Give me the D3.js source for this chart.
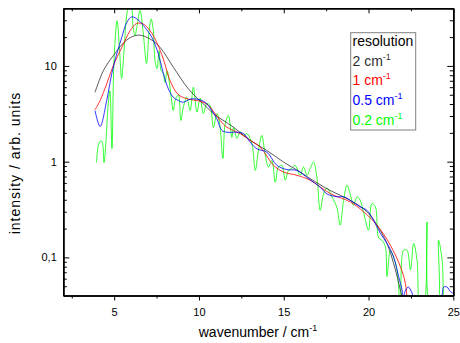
<!DOCTYPE html>
<html>
<head>
<meta charset="utf-8">
<script src="https://cdn.jsdelivr.net/npm/d3@7"></script>
<style>
  html, body { margin: 0; padding: 0; background: #fff; }
  svg { display: block; font-family: "Liberation Sans", Arial, sans-serif; }
</style>
</head>
<body>
<svg id="chart" width="460" height="343"></svg>
<script>
// ---------- data (wavenumber / cm^-1, intensity / arb. units) ----------
const res2Wn = [3.87, 4.36, 4.95, 5.74, 6.43, 7.12, 7.71, 8.49, 9.38, 10.47, 10.86, 12.04, 13.02, 14.0, 14.99, 15.97, 16.56, 17.74, 18.92, 19.91, 20.5, 21.09, 21.48, 21.88, 22.1];
const res2I  = [5.3, 8.9, 12.8, 18.7, 21.0, 19.1, 15.6, 9.7, 5.75, 3.7, 3.16, 2.29, 1.67, 1.31, 0.99, 0.78, 0.665, 0.50, 0.395, 0.30, 0.217, 0.14, 0.0865, 0.0456, 0.03];

const res1Wn = [3.87, 4.17, 4.56, 4.95, 5.45, 5.94, 6.33, 6.72, 7.12, 7.51, 7.9, 8.3, 8.79, 9.38, 9.88, 10.47, 10.96, 11.25, 11.65, 12.43, 13.02, 13.61, 14.4, 14.99, 15.78, 16.56, 17.74, 18.92, 19.71, 20.5, 21.29, 21.88, 22.17, 22.3];
const res1I  = [3.48, 4.35, 6.5, 10.1, 15.6, 23.3, 27.8, 27.4, 23.3, 17.6, 11.8, 7.0, 5.0, 4.5, 4.35, 4.0, 3.16, 2.69, 2.29, 1.96, 1.67, 1.42, 0.915, 0.78, 0.72, 0.64, 0.465, 0.38, 0.30, 0.217, 0.134, 0.080, 0.054, 0.03];

const res05Wn = [3.87, 4.17, 4.56, 4.86, 5.15, 5.45, 5.74, 6.04, 6.43, 6.82, 7.22, 7.61, 7.9, 8.2, 8.49, 8.79, 9.08, 9.48, 9.88, 10.36, 10.76, 11.06, 11.35, 11.65, 12.24, 12.63, 13.02, 13.42, 14.0, 14.6, 15.19, 15.78, 16.46, 17.15, 17.55, 18.14, 18.53, 18.92, 19.51, 19.91, 20.3, 20.7, 21.09, 21.48, 21.78, 21.98, 22.05, 22.15, 22.35, 22.55, 22.7, 23.5, 24.33, 24.43, 24.63, 24.83, 25.0];
const res05I  = [3.42, 2.33, 4.35, 8.3, 13.3, 19.9, 28.4, 32.6, 30.1, 25.2, 19.9, 13.3, 8.3, 5.75, 4.7, 4.35, 4.18, 4.5, 4.5, 4.18, 3.42, 2.8, 2.12, 2.03, 2.03, 1.96, 1.6, 1.36, 1.26, 0.915, 0.826, 0.81, 0.665, 0.54, 0.46, 0.43, 0.43, 0.395, 0.337, 0.31, 0.244, 0.178, 0.14, 0.101, 0.0628, 0.0456, 0.038, 0.044, 0.049, 0.043, 0.036, 0.02, 0.04, 0.049, 0.049, 0.044, 0.042];

const res02Wn = [3.96, 4.05, 4.17, 4.28, 4.40, 4.52, 4.64, 4.75, 4.87, 4.99, 5.17, 5.32, 5.44, 5.58, 5.76, 5.88, 6.0, 6.11, 6.23, 6.35, 6.53, 6.70, 6.91, 7.06, 7.18, 7.30, 7.41, 7.53, 7.65, 7.77, 7.89, 8.0, 8.12, 8.30, 8.49, 8.59, 8.79, 8.93, 9.08, 9.28, 9.48, 9.67, 9.88, 10.07, 10.26, 10.47, 10.66, 10.85, 11.06, 11.22, 11.41, 11.55, 11.74, 11.94, 12.04, 12.24, 12.43, 12.63, 12.83, 13.12, 13.32, 13.51, 13.71, 13.90, 14.10, 14.30, 14.50, 14.69, 14.89, 15.09, 15.28, 15.48, 15.67, 15.97, 16.17, 16.37, 16.56, 16.76, 16.96, 17.15, 17.35, 17.55, 17.84, 18.14, 18.33, 18.53, 18.73, 18.92, 19.12, 19.32, 19.51, 19.71, 20.0, 20.20, 20.40, 20.60, 20.79, 20.99, 21.09, 21.29, 21.48, 21.68, 21.88, 22.07, 22.27, 22.47, 22.66, 22.86, 23.06, 23.24, 23.45, 23.65, 24.04, 24.13, 24.34, 24.53, 24.65];
const res02I  = [0.98, 1.44, 1.63, 1.63, 0.98, 1.67, 3.85, 5.5, 1.37, 11.3, 29.6, 14.4, 7.4, 14.4, 35.9, 42, 42, 26.2, 20.7, 26.2, 38, 23.3, 10.6, 23.3, 31.0, 24.4, 11.3, 9.4, 14.4, 8.9, 8.5, 6.7, 8.9, 5.8, 3.42, 4.35, 5.0, 2.69, 3.7, 4.7, 3.42, 6.0, 3.3, 4.6, 3.18, 4.05, 3.85, 2.28, 3.18, 2.5, 1.08, 2.5, 3.03, 1.79, 2.28, 1.75, 2.05, 1.88, 1.96, 1.55, 0.81, 1.31, 1.88, 1.2, 0.88, 1.03, 0.61, 0.88, 0.915, 0.64, 0.81, 0.85, 0.915, 0.72, 0.88, 0.72, 0.85, 0.99, 0.68, 0.31, 0.46, 0.53, 0.43, 0.33, 0.217, 0.395, 0.567, 0.46, 0.35, 0.43, 0.395, 0.295, 0.192, 0.365, 0.34, 0.16, 0.151, 0.13, 0.063, 0.119, 0.10, 0.074, 0.03, 0.119, 0.119, 0.074, 0.14, 0.094, 0.03, 0.03, 0.235, 0.03, 0.03, 0.151, 0.094, 0.03, 0.03];

const xMajorTicks = [5, 10, 15, 20, 25];
const xMinorTicks = [2.5, 7.5, 12.5, 17.5, 22.5];
const yMajorTicks = [0.1, 1, 10];
const yTickLabels = ["0,1", "1", "10"];
const legendTitle = "resolution";
const legendLabels = ["2", "1", "0.5", "0.2"];
const seriesColors = ["#303030", "#ff0000", "#0000ff", "#00ff00"];

// ---------- layout ----------
const svg = d3.select("#chart");
const L = 63.3, R = 453.3, T = 8.3, B = 295.5;
const x = d3.scaleLinear().domain([2, 25]).range([L, R]);
const y = d3.scaleLog().domain([0.04, 40]).range([B, T]);

const yMinorTicks = [];
[0.01, 0.1, 1, 10].forEach(dec => {
  for (let k = 2; k <= 9; k++) {
    const v = +(k * dec).toPrecision(3);
    if (v >= 0.04 && v <= 40) yMinorTicks.push(v);
  }
});

svg.append("defs").append("clipPath").attr("id", "plotclip")
  .append("rect").attr("x", L).attr("y", T).attr("width", R - L).attr("height", B - T);

// ---------- curves ----------
const series = [
  { wn: res02Wn, I: res02I, color: seriesColors[3] },
  { wn: res2Wn,  I: res2I,  color: seriesColors[0] },
  { wn: res1Wn,  I: res1I,  color: seriesColors[1] },
  { wn: res05Wn, I: res05I, color: seriesColors[2] }
];
const gCurves = svg.append("g").attr("clip-path", "url(#plotclip)");
series.forEach(s => {
  const pts = s.wn.map((w, i) => [w, s.I[i]]);
  const line = d3.line().x(d => x(d[0])).y(d => y(d[1])).curve(d3.curveCatmullRom.alpha(0.5));
  gCurves.append("path").datum(pts)
    .attr("d", line)
    .attr("fill", "none")
    .attr("stroke", s.color)
    .attr("stroke-width", 0.8)
    .attr("stroke-linejoin", "round");
});

// ---------- axes ----------
function styleAxis(g) {
  g.select(".domain").attr("stroke", "#000").attr("stroke-width", 1.5);
  g.selectAll(".tick line").attr("stroke", "#000").attr("stroke-width", 1);
  g.selectAll(".tick text").attr("fill", "#000")
    .style("font-family", "'Liberation Sans', Arial, sans-serif").style("font-size", "11px");
}

// bottom
svg.append("g").attr("transform", `translate(0,${B})`)
  .call(d3.axisBottom(x).tickValues(xMinorTicks).tickSize(3).tickSizeOuter(0).tickFormat(""))
  .call(styleAxis);
svg.append("g").attr("transform", `translate(0,${B})`)
  .call(d3.axisBottom(x).tickValues(xMajorTicks).tickSize(5).tickSizeOuter(0).tickPadding(8).tickFormat(d3.format("d")))
  .call(styleAxis);
// top
svg.append("g").attr("transform", `translate(0,${T})`)
  .call(d3.axisTop(x).tickValues(xMinorTicks).tickSize(-3).tickSizeOuter(0).tickFormat(""))
  .call(styleAxis);
svg.append("g").attr("transform", `translate(0,${T})`)
  .call(d3.axisTop(x).tickValues(xMajorTicks).tickSize(-5).tickSizeOuter(0).tickFormat(""))
  .call(styleAxis);
// left
svg.append("g").attr("transform", `translate(${L},0)`)
  .call(d3.axisLeft(y).tickValues(yMinorTicks).tickSize(-3.5).tickSizeOuter(0).tickFormat(""))
  .call(styleAxis);
svg.append("g").attr("transform", `translate(${L},0)`)
  .call(d3.axisLeft(y).tickValues(yMajorTicks).tickSize(-6).tickSizeOuter(0).tickPadding(6.5)
    .tickFormat((d, i) => yTickLabels[i]))
  .call(styleAxis);
// right
svg.append("g").attr("transform", `translate(${R},0)`)
  .call(d3.axisRight(y).tickValues(yMinorTicks).tickSize(-3.5).tickSizeOuter(0).tickFormat(""))
  .call(styleAxis);
svg.append("g").attr("transform", `translate(${R},0)`)
  .call(d3.axisRight(y).tickValues(yMajorTicks).tickSize(-6).tickSizeOuter(0).tickFormat(""))
  .call(styleAxis);

// ---------- axis titles ----------
const xt = svg.append("text").attr("x", 258).attr("y", 337)
  .attr("text-anchor", "middle").style("font-size", "14px").attr("fill", "#000");
xt.append("tspan").text("wavenumber / cm");
xt.append("tspan").attr("dy", -6).style("font-size", "9px").text("-1");

svg.append("text")
  .attr("transform", "translate(19.5,163) rotate(-90)")
  .attr("text-anchor", "middle")
  .style("font-size", "14px")
  .style("letter-spacing", "1px")
  .attr("fill", "#000")
  .text("intensity / arb. units");

// ---------- legend ----------
const lg = svg.append("g");
lg.append("rect").attr("x", 350.7).attr("y", 32.7).attr("width", 65).attr("height", 97.3)
  .attr("fill", "#fff").attr("stroke", "#808080").attr("stroke-width", 1);
lg.append("text").attr("x", 352.5).attr("y", 46).style("font-size", "14px").attr("fill", "#000").text(legendTitle);
legendLabels.forEach((lab, i) => {
  const t = lg.append("text").attr("x", 352.5).attr("y", 65.7 + i * 19.7)
    .style("font-size", "14px").attr("fill", seriesColors[i]);
  t.append("tspan").text(lab + " cm");
  t.append("tspan").attr("dy", -6).style("font-size", "9px").text("-1");
});
</script>
</body>
</html>
